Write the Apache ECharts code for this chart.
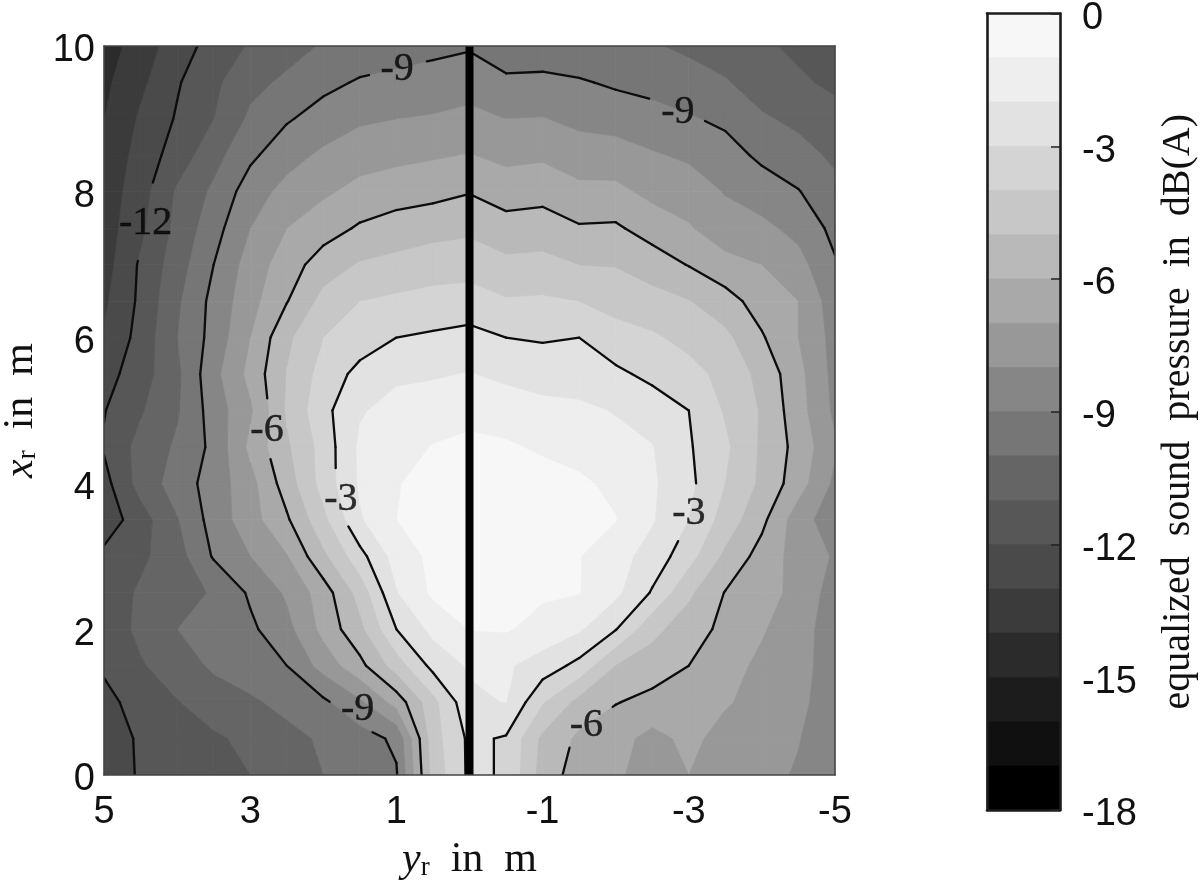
<!DOCTYPE html>
<html><head><meta charset="utf-8">
<style>html,body{margin:0;padding:0;background:#fff}#c{width:1200px;height:880px}</style>
<script src="https://cdn.jsdelivr.net/npm/echarts@6/dist/echarts.min.js"></script>
</head><body><div id="c"></div>
<script>
// lateral positions y_r in m (left to right) and distances x_r in m (top to bottom)
const yPositions = [5,4.5,4,3.5,3,2.5,2,1.5,1,0.5,0,-0.5,-1,-1.5,-2,-2.5,-3,-3.5,-4,-4.5,-5];
const xPositions = [10,9.5,9,8.5,8,7.5,7,6.5,6,5.5,5,4.5,4,3.5,3,2.5,2,1.5,1,0.5,0];
// equalized sound pressure in dB(A), one array per x_r row
const row100 = [-14.5,-13.5,-12.5,-11.6,-10.9,-10.4,-9.9,-9.6,-9.4,-9.25,-9.1,-9.6,-9.6,-9.7,-9.8,-9.9,-10.2,-10.55,-10.85,-11.2,-11.6];
const row095 = [-14.2,-13.2,-12.1,-11.2,-10.3,-9.8,-9.25,-8.9,-8.75,-8.6,-8.45,-8.8,-8.75,-8.9,-9.15,-9.35,-9.55,-9.9,-10.55,-10.85,-11.2];
const row090 = [-14,-12.85,-11.9,-11,-9.8,-9.1,-8.6,-8.15,-8,-7.9,-7.7,-8,-7.95,-8.25,-8.4,-8.6,-8.9,-9.2,-9.85,-10.25,-10.65];
const row085 = [-13.8,-12.6,-11.55,-10.35,-9.2,-8.4,-7.8,-7.4,-7.25,-7.1,-6.95,-7.25,-7.15,-7.5,-7.55,-7.9,-8.15,-8.6,-9.2,-9.6,-10.2];
const row080 = [-13.6,-12.4,-10.85,-9.8,-8.5,-7.65,-7.15,-6.7,-6.45,-6.3,-6.05,-6.45,-6.35,-6.75,-6.75,-7.25,-7.5,-8.05,-8.5,-8.95,-9.7];
const row075 = [-13.5,-12.2,-10.7,-9.4,-8,-7,-6.45,-5.87,-5.55,-5.35,-5.2,-5.6,-5.5,-5.9,-5.85,-6.45,-6.9,-7.6,-7.75,-8.3,-9.28];
const row070 = [-13.4,-11.85,-10.45,-9,-7.55,-6.5,-5.5,-4.9,-4.7,-4.45,-4.4,-4.75,-4.7,-5,-5.05,-5.45,-6.05,-6.65,-7,-7.65,-8.9];
const row065 = [-13.15,-11.8,-10.15,-8.7,-7.35,-6.05,-4.67,-4,-3.8,-3.65,-3.55,-3.9,-3.85,-4,-4.35,-4.65,-4.95,-5.6,-6.45,-7,-8.55];
const row060 = [-12.9,-11.65,-10,-8.65,-7,-5.2,-4,-3.5,-3,-2.85,-2.7,-3,-3.1,-3,-3.6,-3.85,-4.3,-4.75,-5.9,-7,-8.35];
const row055 = [-12.4,-11.45,-10.2,-8.3,-6.7,-4.95,-3.6,-2.7,-2.2,-2.1,-1.95,-2.2,-2.4,-2.45,-2.8,-3.25,-3.65,-4.3,-5.3,-6.7,-8.3];
const row050 = [-12.05,-11.1,-10.1,-8.55,-7.15,-4.85,-3.3,-2.1,-1.6,-1.45,-1.3,-1.5,-1.7,-1.8,-2.05,-2.45,-3,-4.1,-5.1,-6.6,-8.2];
const row045 = [-11.9,-10.65,-9.85,-8.75,-6.75,-5.15,-3.6,-1.8,-1.4,-0.95,-0.75,-0.85,-1.15,-1.4,-1.7,-1.95,-2.9,-3.8,-5.15,-6.35,-7.85];
const row040 = [-12.35,-10.6,-9.55,-8.55,-7.35,-5.5,-3.6,-1.85,-1.05,-0.65,-0.4,-0.4,-0.55,-0.8,-1.25,-1.85,-2.75,-4,-5.2,-6.55,-8.2];
const row035 = [-12.6,-11.45,-10.05,-8.6,-7.4,-6.15,-4.25,-2.1,-1,-0.55,-0.3,-0.35,-0.45,-0.65,-0.95,-1.9,-3,-4.4,-5.75,-7.55,-8.6];
const row030 = [-11.75,-11.2,-10.4,-8.9,-8,-7.05,-5.2,-3.35,-1.55,-0.75,-0.35,-0.6,-0.8,-0.95,-1.6,-2.4,-3.6,-5.2,-6.4,-7.4,-8.1];
const row025 = [-11.6,-10.85,-10.2,-9.95,-8.85,-7.85,-6.5,-4.6,-2.05,-0.8,-0.5,-0.75,-0.85,-0.95,-1.75,-3.1,-4.8,-6.05,-6.6,-7.3,-8.45];
const row020 = [-11.65,-10.75,-10,-9.55,-9.2,-8.3,-6.7,-5.25,-3,-1.7,-0.95,-0.9,-1.35,-1.85,-2.95,-4.7,-5.55,-6.25,-6.9,-7.6,-8.5];
const row015 = [-11.85,-11.1,-10.45,-9.85,-9.45,-9,-7.6,-6.3,-4.5,-2.7,-1.85,-1.85,-2.45,-3.3,-5,-5.5,-6,-6.65,-7.2,-7.65,-8.5];
const row010 = [-12.3,-11.6,-11.05,-10.45,-10.15,-9.7,-9.2,-8.15,-6.6,-4.3,-2.25,-1.95,-3.9,-5.3,-5.95,-6.3,-6.6,-6.9,-7.35,-7.8,-8.45];
const row005 = [-12.6,-11.85,-11.5,-11.15,-10.75,-10.3,-9.85,-9.45,-8.8,-4.4,-2.8,-3.1,-5.2,-6.2,-6.65,-7.3,-6.75,-7.35,-7.7,-7.95,-8.7];
const row000 = [-12.8,-11.85,-11.6,-11.3,-11,-10.5,-10,-9.5,-9.1,-4.6,-2.8,-3.1,-5.4,-6.5,-6.85,-7.4,-7,-7.4,-7.7,-8.1,-8.85];
const pressure = [row100,row095,row090,row085,row080,row075,row070,row065,row060,row055,row050,row045,row040,row035,row030,row025,row020,row015,row010,row005,row000];

// filled levels (upper edge of each band, dB) and their greys
const bandTops = [0,-1,-2,-3,-4,-5,-6,-7,-8,-9,-10,-11,-12,-13,-14,-15,-16,-17];
const bandColors = ['#f7f7f7','#eeeeee','#e2e2e2','#d4d4d4','#c7c7c7','#b9b9b9','#a9a9a9','#989898','#868686','#767676','#656565','#575757','#4a4a4a','#3b3b3b','#2b2b2b','#1c1c1c','#101010','#000000'];
// contour lines and their inline labels
const contourLevels = [-3,-6,-9,-12];
const labelY = [0.99,-2.85,4.43,2.77,1.76,-3.0,1.53,-1.6];
const labelX = [9.71,9.11,7.59,4.75,3.8,3.61,0.93,0.7];
const labelText = ['-9','-9','-12','-6','-3','-3','-9','-6'];
// centre divider
const dividerY = [0,0];
const dividerX = [0,10];
// tick labels
const yTickLabels = [5,3,1,-1,-3,-5];
const xTickLabels = [0,2,4,6,8,10];
const colorbarTicks = [0,-3,-6,-9,-12,-15,-18];

const SERIF = '"Liberation Serif","DejaVu Serif",serif';
const SANS = '"Liberation Sans",Arial,sans-serif';

// ---- contouring of the grid ----
function clip(poly, level, keepAbove){
  const out=[];
  for(let i=0;i<poly.length;i++){
    const a=poly[i], b=poly[(i+1)%poly.length];
    const ina=keepAbove? a[2]>=level : a[2]<=level;
    const inb=keepAbove? b[2]>=level : b[2]<=level;
    if(ina) out.push(a);
    if(ina!==inb){
      const t=(level-a[2])/(b[2]-a[2]);
      out.push([a[0]+t*(b[0]-a[0]),a[1]+t*(b[1]-a[1]),level]);
    }
  }
  return out;
}
const pieces=[];
const segments=[];
for(let r=0;r<xPositions.length-1;r++){
  for(let c=0;c<yPositions.length-1;c++){
    const quad=[
      [yPositions[c],xPositions[r],pressure[r][c]],
      [yPositions[c+1],xPositions[r],pressure[r][c+1]],
      [yPositions[c+1],xPositions[r+1],pressure[r+1][c+1]],
      [yPositions[c],xPositions[r+1],pressure[r+1][c]]
    ];
    bandTops.forEach((top,k)=>{
      let p=clip(quad,top,false);
      if(p.length>2) p=clip(p,top-1,true);
      if(p.length>2) pieces.push({pts:p,color:bandColors[k]});
    });
    contourLevels.forEach(level=>{
      const cross=[];
      for(let i=0;i<4;i++){
        const a=quad[i],b=quad[(i+1)%4];
        if((a[2]>=level)!==(b[2]>=level)){
          const t=(level-a[2])/(b[2]-a[2]);
          cross.push([a[0]+t*(b[0]-a[0]),a[1]+t*(b[1]-a[1])]);
        }
      }
      for(let i=0;i+1<cross.length;i+=2) segments.push([cross[i],cross[i+1]]);
    });
  }
}
// break the lines around their labels
function gapRadius(t){return t.length>2?0.53:0.39;}
const visible=[];
segments.forEach(([a,b])=>{
  const n=12;
  let first=null,last=null;
  for(let i=0;i<=n;i++){
    const q=[a[0]+(b[0]-a[0])*i/n,a[1]+(b[1]-a[1])*i/n];
    const hide=labelText.some((t,j)=>Math.hypot(q[0]-labelY[j],q[1]-labelX[j])<gapRadius(t));
    if(!hide){ if(!first) first=q; last=q; }
    else { if(first&&last&&first!==last) visible.push([first,last]); first=null; last=null; }
  }
  if(first&&last&&first!==last) visible.push([first,last]);
});

const frameLine={show:true,onZero:false,lineStyle:{color:'#444444',width:1.6}};
const barLine={show:true,onZero:false,lineStyle:{color:'#1c1c1c',width:2.6}};
const hidden={show:false};
function frameAxis(extra){return Object.assign({type:'value',z:10,axisLine:frameLine,axisTick:hidden,axisLabel:hidden,splitLine:hidden},extra);}
const tickFont={fontFamily:SANS,fontSize:38,color:'#111111'};
const loweredTicks={show:true,formatter:v=>'{a|'+v+'}',rich:{a:Object.assign({padding:[10,0,0,0]},tickFont)}};
const nameRich={
  i:{fontFamily:SERIF,fontStyle:'italic',fontSize:42,color:'#111'},
  s:{fontFamily:SERIF,fontSize:27,color:'#111',verticalAlign:'bottom'},
  t:{fontFamily:SERIF,fontSize:42,color:'#111'}
};

const option={
  animation:false,
  backgroundColor:'#ffffff',
  grid:[
    {left:104,top:46,width:731,height:729,outerBoundsMode:'none'},
    {left:987,top:13.5,width:73,height:796.5,outerBoundsMode:'none'}
  ],
  xAxis:[
    frameAxis({gridIndex:0,position:'bottom',inverse:true,min:-5,max:5,
      axisLabel:Object.assign({show:true,customValues:yTickLabels,margin:19,formatter:v=>String(v)},tickFont),
      name:'{i|y}{s|r}{t|  in  m}',nameLocation:'middle',nameGap:64,nameTextStyle:{rich:nameRich}}),
    frameAxis({gridIndex:0,position:'top',inverse:true,min:-5,max:5}),
    frameAxis({gridIndex:1,position:'bottom',min:0,max:1,axisLine:barLine}),
    frameAxis({gridIndex:1,position:'top',min:0,max:1,axisLine:barLine})
  ],
  yAxis:[
    frameAxis({gridIndex:0,position:'left',min:0,max:10,
      axisLabel:Object.assign({customValues:xTickLabels,margin:9},loweredTicks),
      name:'{i|x}{s|r}{t|  in  m}',nameLocation:'middle',nameGap:62,nameTextStyle:{rich:nameRich}}),
    frameAxis({gridIndex:0,position:'right',min:0,max:10}),
    frameAxis({gridIndex:1,position:'left',min:-18,max:0,axisLine:barLine}),
    frameAxis({gridIndex:1,position:'right',min:-18,max:0,axisLine:barLine,
      axisTick:{show:true,inside:true,customValues:colorbarTicks,length:9,lineStyle:{color:'#222',width:1.5}},
      axisLabel:Object.assign({customValues:colorbarTicks,margin:22},loweredTicks),
      name:'equalized  sound  pressure  in  dB(A)',nameLocation:'middle',nameGap:98,nameRotate:90,
      nameTextStyle:{fontFamily:SERIF,fontSize:40,color:'#111'}})
  ],
  series:[
    {type:'custom',name:'bands',xAxisIndex:0,yAxisIndex:0,z:1,silent:true,progressive:0,clip:true,
      data:pieces.map(p=>[p.pts[0][0],p.pts[0][1]]),
      renderItem:(params,api)=>{
        const p=pieces[params.dataIndex];
        return {type:'polygon',shape:{points:p.pts.map(q=>api.coord([q[0],q[1]]))},
          style:{fill:p.color,stroke:p.color,lineWidth:0.8}};
      }},
    {type:'custom',name:'contours',xAxisIndex:0,yAxisIndex:0,z:2,silent:true,progressive:0,clip:true,
      data:visible.map(s=>[s[0][0],s[0][1]]),
      renderItem:(params,api)=>{
        const s=visible[params.dataIndex];
        const a=api.coord(s[0]),b=api.coord(s[1]);
        return {type:'line',shape:{x1:a[0],y1:a[1],x2:b[0],y2:b[1]},
          style:{stroke:'#0c0c0c',lineWidth:2.3,lineCap:'round'}};
      }},
    {type:'line',name:'divider',xAxisIndex:0,yAxisIndex:0,z:3,silent:true,symbol:'none',clip:false,
      data:dividerY.map((y,i)=>[y,dividerX[i]]),lineStyle:{color:'#000000',width:8,cap:'butt'}},
    {type:'scatter',name:'labels',xAxisIndex:0,yAxisIndex:0,z:4,silent:true,symbolSize:0,
      data:labelText.map((t,i)=>({value:[labelY[i],labelX[i]],name:t})),
      label:{show:true,position:'inside',offset:[0,2],formatter:p=>p.name,fontFamily:SERIF,fontSize:40,color:'#000000',textBorderColor:'#000000',textBorderWidth:0.4}},
    {type:'custom',name:'colorbar',xAxisIndex:2,yAxisIndex:2,z:1,silent:true,progressive:0,
      data:bandTops.map(t=>[0,t]),
      renderItem:(params,api)=>{
        const top=bandTops[params.dataIndex];
        const a=api.coord([0,top]),b=api.coord([1,top-1]);
        const c=bandColors[params.dataIndex];
        return {type:'rect',shape:{x:a[0],y:a[1],width:b[0]-a[0],height:b[1]-a[1]},
          style:{fill:c,stroke:c,lineWidth:0.8}};
      }}
  ]
};
const chart=echarts.init(document.getElementById('c'),null,{renderer:'canvas'});
chart.setOption(option);
</script></body></html>
